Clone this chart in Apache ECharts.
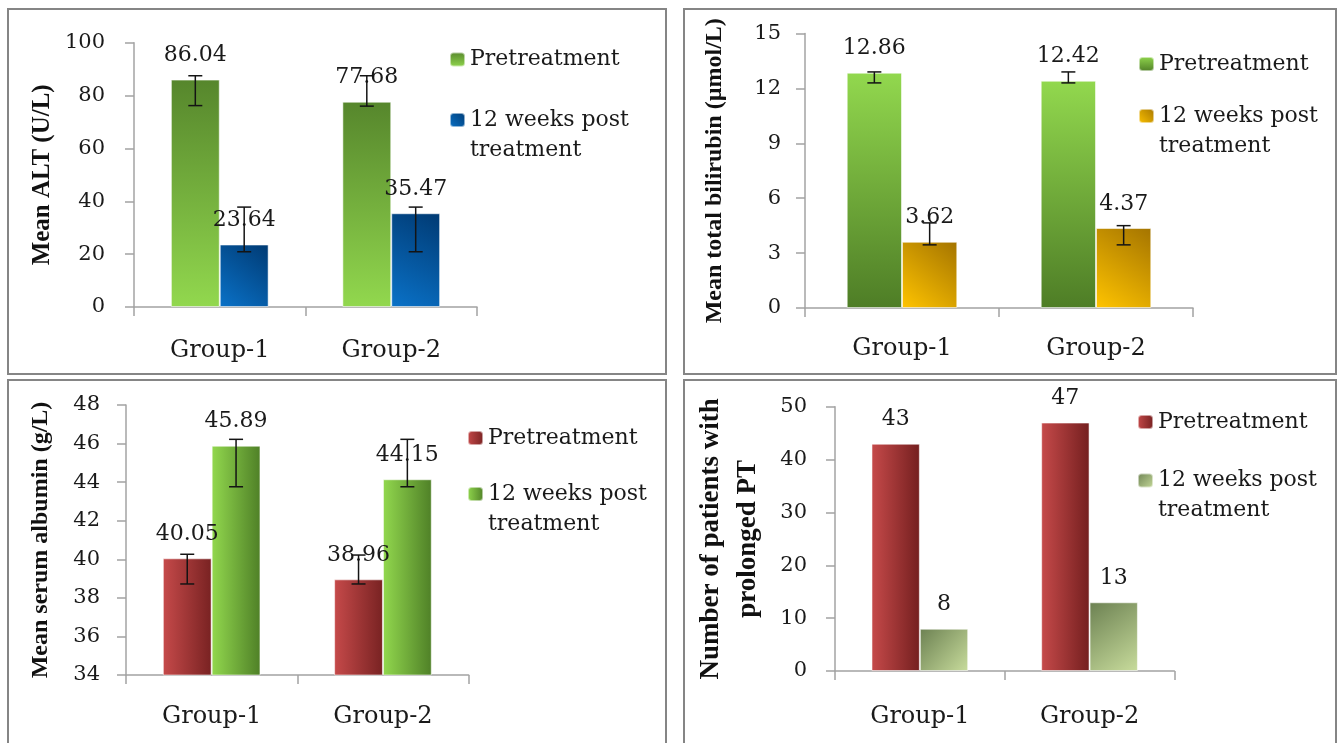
<!DOCTYPE html>
<html>
<head>
<meta charset="utf-8">
<script src="https://cdn.jsdelivr.net/npm/echarts@6/dist/echarts.min.js"></script>
<style>
  html, body { margin: 0; padding: 0; background: #fff; }
  #chart { position: absolute; left: 0; top: 0; width: 1338px; height: 743px; }
  .frame { position: absolute; border: 2px solid #858585; box-sizing: border-box; pointer-events: none; }
</style>
</head>
<body>
<div id="chart"></div>
<div class="frame" style="left:7px;top:8px;width:660px;height:367px"></div>
<div class="frame" style="left:683px;top:8px;width:654px;height:367px"></div>
<div class="frame" style="left:7px;top:379px;width:660px;height:380px"></div>
<div class="frame" style="left:683px;top:379px;width:654px;height:380px"></div>
<script>
// categories
const groups = ["Group-1", "Group-2"];

// ALT (U/L)
const altPre = [86.04, 77.68];
const altPost = [23.64, 35.47];
const altPreLow = [76.2, 76.0];
const altPreHigh = [87.5, 87.5];
const altPostLow = [20.9, 20.9];
const altPostHigh = [37.8, 37.8];

// total bilirubin (µmol/L)
const biliPre = [12.86, 12.42];
const biliPost = [3.62, 4.37];
const biliPreLow = [12.3, 12.3];
const biliPreHigh = [12.9, 12.9];
const biliPostLow = [3.45, 3.45];
const biliPostHigh = [4.65, 4.5];

// serum albumin (g/L)
const albPre = [40.05, 38.96];
const albPost = [45.89, 44.15];
const albPreLow = [38.72, 38.72];
const albPreHigh = [40.26, 40.22];
const albPostLow = [43.76, 43.76];
const albPostHigh = [46.22, 46.22];

// patients with prolonged PT
const ptPre = [43, 47];
const ptPost = [8, 13];

// leading blank line keeps the marker level with the first text line
const legendNames = {
  pre: "Pretreatment",
  post: " \n12 weeks post\ntreatment",
};

const SERIF = "DejaVu Serif";
const TXT = "#1a1a1a";
const AXIS = "#a3a3a3";
const GAP = 0.43;

const grad = (x, y, x2, y2, a, b) =>
  new echarts.graphic.LinearGradient(x, y, x2, y2, [
    { offset: 0, color: a },
    { offset: 1, color: b },
  ]);

const fills = {
  altPre: grad(0, 0, 0, 1, "#56862c", "#92d84e"),
  altPost: grad(1, 0, 0, 1, "#003a73", "#0a72c8"),
  biliPre: grad(0, 0, 0, 1, "#92d84e", "#4e7d26"),
  biliPost: grad(1, 0, 0, 1, "#a47400", "#ffc400"),
  albPre: grad(0, 0, 1, 0, "#c64a4a", "#782222"),
  albPost: grad(0, 0, 1, 0, "#92d84e", "#4f8027"),
  ptPre: grad(0, 0, 1, 0, "#c64a4a", "#741f1f"),
  ptPost: grad(0, 0, 1, 1, "#6c8152", "#c8dc9c"),
};

// panel layout (page pixels)
const panels = [
  { left: 134, top: 42.7, width: 343, height: 264.3, min: 0, max: 100, step: 20,
    name: "Mean ALT (U/L)", nameGap: 73, nameSize: 25, labelMargin: 29, catMargin: 32 },
  { left: 805, top: 33.5, width: 388, height: 274.5, min: 0, max: 15, step: 3,
    name: "Mean total bilirubin (µmol/L)", nameGap: 72, nameSize: 24, labelMargin: 24, catMargin: 29 },
  { left: 126, top: 405, width: 342.6, height: 270, min: 34, max: 48, step: 2,
    name: "Mean serum albumin (g/L)", nameGap: 67, nameSize: 24, labelMargin: 26, catMargin: 30 },
  { left: 835, top: 406.7, width: 339.4, height: 264.3, min: 0, max: 50, step: 10,
    name: "Number of patients with\nprolonged PT", nameGap: 68, nameSize: 27, labelMargin: 28, catMargin: 34 },
];

const legendPos = [
  { left: 449, a: 59.5, b: 120 },
  { left: 1138, a: 64, b: 116 },
  { left: 467, a: 438, b: 494 },
  { left: 1137, a: 422, b: 480.5 },
];

function barSeries(id, data, idx) {
  return {
    name: id,
    type: "bar",
    xAxisIndex: idx,
    yAxisIndex: idx,
    data: data,
    barGap: "0%",
    barCategoryGap: GAP * 100 + "%",
    itemStyle: { color: fills[id], borderColor: "rgba(255,255,255,0.55)", borderWidth: 1 },
    label: {
      show: true,
      position: "top",
      distance: 13,
      fontFamily: SERIF,
      fontSize: 22,
      color: TXT,
    },
    z: 2,
  };
}

function errorSeries(low, high, idx, side) {
  return {
    type: "custom",
    xAxisIndex: idx,
    yAxisIndex: idx,
    silent: true,
    z: 5,
    data: low.map((l, i) => [i, l, high[i]]),
    encode: { x: 0, y: [1, 2] },
    renderItem(params, api) {
      const lo = api.coord([api.value(0), api.value(1)]);
      const hi = api.coord([api.value(0), api.value(2)]);
      const band = api.size([1, 0])[0];
      const x = lo[0] + (band * (1 - GAP) / 4) * side;
      const cap = 7;
      const style = { stroke: "#141414", lineWidth: 1.5 };
      return {
        type: "group",
        children: [
          { type: "line", shape: { x1: x, y1: hi[1], x2: x, y2: lo[1] }, style },
          { type: "line", shape: { x1: x - cap, y1: hi[1], x2: x + cap, y2: hi[1] }, style },
          { type: "line", shape: { x1: x - cap, y1: lo[1], x2: x + cap, y2: lo[1] }, style },
        ],
      };
    },
  };
}

const legendText = {
  fontFamily: SERIF,
  fontSize: 22,
  color: TXT,
  lineHeight: 30,
};

const legendFor = (names, i) => {
  const p = legendPos[i];
  return [
    {
      data: [names[0]],
      left: p.left,
      top: p.a - 15,
      padding: 0,
      itemWidth: 15,
      itemHeight: 14,
      selectedMode: false,
      formatter: () => legendNames.pre,
      textStyle: legendText,
    },
    {
      data: [names[1]],
      left: p.left,
      top: p.b - 45,
      padding: 0,
      itemWidth: 15,
      itemHeight: 14,
      selectedMode: false,
      formatter: () => legendNames.post,
      textStyle: legendText,
    },
  ];
};

const option = {
  animation: false,
  backgroundColor: "#fff",
  grid: panels.map((p) => ({ left: p.left, top: p.top, width: p.width, height: p.height })),
  xAxis: panels.map((p, i) => ({
    type: "category",
    gridIndex: i,
    data: groups,
    axisLine: { lineStyle: { color: AXIS, width: 1.5 } },
    axisTick: { show: true, length: 9, lineStyle: { color: AXIS, width: 1.5 } },
    axisLabel: { fontFamily: SERIF, fontSize: 24, color: TXT, margin: p.catMargin },
  })),
  yAxis: panels.map((p, i) => ({
    type: "value",
    gridIndex: i,
    min: p.min,
    max: p.max,
    interval: p.step,
    axisLine: { show: true, lineStyle: { color: AXIS, width: 1.5 } },
    axisTick: { show: true, length: 9, lineStyle: { color: AXIS, width: 1.5 } },
    splitLine: { show: false },
    axisLabel: { fontFamily: SERIF, fontSize: 21, color: TXT, margin: p.labelMargin },
    name: p.name,
    nameLocation: "middle",
    nameGap: p.nameGap,
    nameTextStyle: {
      fontFamily: "Liberation Serif",
      fontWeight: "bold",
      fontSize: p.nameSize,
      lineHeight: 37,
      color: "#111",
    },
  })),
  legend: [
    ...legendFor(["altPre", "altPost"], 0),
    ...legendFor(["biliPre", "biliPost"], 1),
    ...legendFor(["albPre", "albPost"], 2),
    ...legendFor(["ptPre", "ptPost"], 3),
  ],
  series: [
    barSeries("altPre", altPre, 0),
    barSeries("altPost", altPost, 0),
    errorSeries(altPreLow, altPreHigh, 0, -1),
    errorSeries(altPostLow, altPostHigh, 0, 1),

    barSeries("biliPre", biliPre, 1),
    barSeries("biliPost", biliPost, 1),
    errorSeries(biliPreLow, biliPreHigh, 1, -1),
    errorSeries(biliPostLow, biliPostHigh, 1, 1),

    barSeries("albPre", albPre, 2),
    barSeries("albPost", albPost, 2),
    errorSeries(albPreLow, albPreHigh, 2, -1),
    errorSeries(albPostLow, albPostHigh, 2, 1),

    barSeries("ptPre", ptPre, 3),
    barSeries("ptPost", ptPost, 3),
  ],
};

const chart = echarts.init(document.getElementById("chart"), null, { renderer: "canvas" });
chart.setOption(option);
</script>
</body>
</html>
